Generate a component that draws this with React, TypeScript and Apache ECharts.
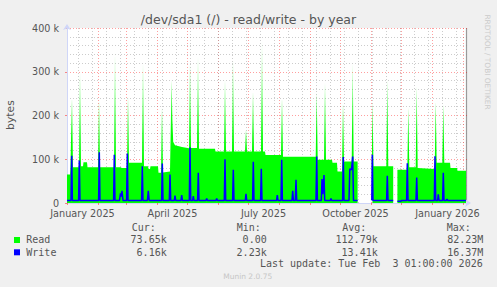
import { useEffect, useRef } from "react";
import * as echarts from "echarts";

// x = day offset from 1 January 2025, y = bytes in thousands
const readPoints: [number, number | null][] = [
  [0, 65], [3, 65], [3.4, 82],
  [4, 82], [5, 240], [6, 82],
  [12, 82], [13, 298], [14, 84],
  [16, 84], [16.5, 93], [20, 93], [20.5, 82],
  [31, 82], [32, 236], [33, 82],
  [47, 82], [48, 343], [49, 82],
  [54, 82], [54.5, 80],
  [60, 80], [61, 244], [62, 92],
  [75, 92], [76, 320], [77, 84],
  [81, 84], [81.5, 78], [83, 78], [83.5, 84],
  [91, 84], [91.5, 69],
  [94, 69], [95, 218], [96, 70],
  [103, 72], [103.6, 150], [104.6, 282], [105.4, 190], [106.2, 140], [108, 132],
  [115, 128], [122, 125], [123, 320], [124, 126],
  [130, 126], [131, 335], [132, 124],
  [148, 124], [148.5, 118],
  [157, 118], [158, 282], [159, 118],
  [165, 118], [166, 327], [167, 118],
  [178, 118], [179, 167], [180, 118],
  [185, 118], [186, 255], [187, 118],
  [194, 118], [195, 373], [196, 118],
  [198, 118], [198.5, 110],
  [214, 110], [215, 240], [216, 106],
  [248.7, 106], [249.7, 252], [250.7, 99],
  [257, 99], [258, 275], [259, 99],
  [265, 99], [265.5, 92], [270, 92], [270.5, 72],
  [275, 72], [276, 229], [277, 95],
  [284.7, 95], [285.7, 320], [286.7, 95],
  [290.6, 95], [291, null],
  [304.8, 84], [305.5, 230], [306.5, 84],
  [319.3, 84], [320.3, 282], [321.3, 84],
  [326.2, 84], [328, null],
  [330.4, 76], [340.3, 76], [341.3, 218], [342.3, 82],
  [348.7, 82], [349.7, 267], [350.7, 80],
  [367.7, 78], [368.7, 232], [369.7, 92],
  [375.3, 92], [376.3, 225], [377.3, 92],
  [383, 92], [383.5, 80], [390, 80], [390.5, 74], [399, 74],
];

const writePoints: [number, number | null][] = [
  [0, 6], [4, 6], [4.7, 108], [5.4, 6],
  [11.6, 6], [12.3, 97], [13, 6],
  [31.6, 6], [32.3, 116], [33, 6],
  [46.6, 6], [47.3, 110], [48, 6],
  [52.5, 6], [53.5, 22], [54.3, 15], [55, 28], [56, 6],
  [59.6, 6], [60.3, 113], [61, 6],
  [74.6, 6], [75.3, 84], [76, 6],
  [80.4, 6], [81.3, 28], [82.2, 6],
  [94.6, 6], [95.3, 90], [96, 6],
  [102.3, 6], [103, 65], [103.7, 6],
  [107.3, 6], [108, 17], [108.7, 6],
  [114, 6], [114.7, 18], [115.4, 6],
  [122.3, 6], [123, 127], [123.7, 6],
  [125.6, 6], [126.3, 16], [127, 6],
  [130.6, 6], [131.3, 69], [132, 6],
  [139, 6], [139.7, 10], [140.4, 6],
  [149, 6], [149.7, 10], [150.4, 6],
  [157.3, 6], [158, 100], [158.7, 6],
  [165.6, 6], [166.3, 76], [167, 6],
  [178.3, 6], [179, 21], [179.7, 6],
  [185.6, 6], [186.3, 94], [187, 6],
  [193.6, 6], [194.3, 78], [195, 6],
  [209.6, 6], [210.3, 18], [211, 6],
  [214, 6], [214.7, 99], [215.4, 6],
  [225, 6], [225.7, 28], [226.4, 6],
  [228.3, 6], [229, 53], [229.7, 6],
  [249, 6], [249.7, 106], [250.4, 6],
  [254.3, 6], [255, 55], [255.8, 20], [257, 64], [257.7, 6],
  [263.3, 6], [264, 10], [264.7, 6],
  [275.6, 6], [276.3, 105], [277, 6],
  [282, 6], [282.8, 78], [284.5, 76], [285.7, 106], [286.5, 6],
  [290.6, 6], [291, null],
  [304.8, 6], [305.3, 110], [306, 6],
  [319.6, 6], [320.3, 62], [321, 6],
  [326.2, 6], [328, null],
  [330.4, 4], [334, 4], [334.5, 6],
  [339.6, 6], [340.3, 91], [341, 6],
  [349, 6], [349.7, 58], [350.4, 6],
  [367.3, 6], [368, 107], [368.7, 6],
  [370.6, 6], [371.3, 20], [372, 6],
  [375.6, 6], [376.3, 69], [377, 6],
  [379.3, 6], [380, 9], [380.7, 6],
  [399, 6],
];

// axis furniture
const monthStarts = [0, 31, 59, 90, 120, 151, 181, 212, 243, 273, 304, 334, 365, 396];
const xLabelDays = [15.5, 105.5, 196.5, 288.5, 380.5];
const xLabelTexts = ["January 2025", "April 2025", "July 2025", "October 2025", "January 2026"];
const minorGridDays: number[] = [];
for (let d = 11.3; d < 400; d += 14) minorGridDays.push(Math.round(d * 10) / 10);

// legend
const legendNames = ["Read", "Write"];
const legendColors = ["#00FF00", "#0000FF"];
const statHeaders = ["Cur:", "Min:", "Avg:", "Max:"];
const curVals = ["73.65k", "6.16k"];
const minVals = ["0.00", "2.23k"];
const avgVals = ["112.79k", "13.41k"];
const maxVals = ["82.23M", "16.37M"];
const lastUpdate = "Last update: Tue Feb  3 01:00:00 2026";

const TXT = "#555555";
const MONO = '"DejaVu Sans Mono", monospace';
const SANS = '"DejaVu Sans", sans-serif';

function txt(x: number, y: number, text: string, opts: any = {}) {
  return {
    type: "text",
    x,
    y,
    rotation: opts.rotation || 0,
    silent: true,
    style: {
      text,
      fill: opts.fill || TXT,
      fontSize: opts.fontSize || 10,
      fontFamily: opts.fontFamily || MONO,
      align: opts.align || "left",
      textAlign: opts.align || "left",
      verticalAlign: "middle",
      textVerticalAlign: "middle",
    },
  };
}

export default function App() {
  const ref = useRef<HTMLDivElement>(null);
  useEffect(() => {
    if (!ref.current) return;
    const chart = echarts.init(ref.current, null, { renderer: "svg" });
    const gridRed = { color: "rgba(255,0,0,0.38)", type: [1, 2] as any, width: 1 };
    const gridGray = { color: "rgba(143,143,143,0.45)", type: [1, 2] as any, width: 1 };

    const headerX = [131.7, 236.7, 342.3, 446.7];
    const valueX = [166.7, 266.7, 377.7, 483.3];
    const rowY = [239.7, 252];
    const cols = [curVals, minVals, avgVals, maxVals];

    const graphics: any[] = [
      txt(248.5, 19, "/dev/sda1 (/) - read/write - by year", { fontFamily: SANS, fontSize: 12.5, align: "center" }),
      txt(10, 115, "bytes", { fontFamily: SANS, fontSize: 10.8, align: "center", rotation: Math.PI / 2 }),
      txt(487, 62, "RRDTOOL / TOBI OETIKER", { fontFamily: SANS, fontSize: 7.4, align: "center", rotation: -Math.PI / 2, fill: "#cbcbcb" }),
      txt(247.7, 276.3, "Munin 2.0.75", { fontFamily: SANS, fontSize: 7.5, align: "center", fill: "#c6c6c6" }),
      txt(482.7, 263.3, lastUpdate, { align: "right" }),
      {
        type: "line",
        silent: true,
        shape: { x1: 466.5, y1: 28, x2: 466.5, y2: 202 },
        style: { stroke: "#9a9a9a", lineWidth: 1.2 },
      },
    ];
    statHeaders.forEach((h, i) => graphics.push(txt(headerX[i], 227.3, h)));
    legendNames.forEach((n, r) => {
      graphics.push({
        type: "rect",
        silent: true,
        shape: { x: 14, y: rowY[r] - 2.7, width: 6, height: 6 },
        style: { fill: legendColors[r] },
      });
      graphics.push(txt(26.3, rowY[r], n));
      cols.forEach((c, i) => graphics.push(txt(valueX[i], rowY[r], c[r], { align: "right" })));
    });

    const readGradient = new echarts.graphic.LinearGradient(
      0, 28, 0, 203,
      [
        { offset: 0, color: "rgba(0,255,0,0.15)" },
        { offset: 0.25, color: "rgba(0,255,0,0.5)" },
        { offset: 0.5, color: "rgba(0,255,0,0.9)" },
        { offset: 0.62, color: "#00FF00" },
        { offset: 1, color: "#00FF00" },
      ],
      true
    );

    chart.setOption({
      animation: false,
      backgroundColor: "#F0F0F0",
      grid: {
        left: 67,
        top: 28,
        width: 400,
        height: 175,
        show: true,
        backgroundColor: "#FFFFFF",
        borderWidth: 0,
        containLabel: false,
        outerBoundsMode: "none",
      },
      xAxis: [
        {
          type: "value",
          min: 0,
          max: 400,
          position: "bottom",
          axisLine: {
            show: true,
            onZero: false,
            lineStyle: { color: "#CFD6F8", width: 1 },
            symbol: ["none", "arrow"],
            symbolSize: [6, 6],
            symbolOffset: [0, 4],
          },
          axisTick: {
            show: true,
            customValues: monthStarts,
            length: 2,
            lineStyle: { color: "rgba(255,0,0,0.45)" },
          },
          axisLabel: {
            show: true,
            customValues: xLabelDays,
            formatter: (v: number) => {
              const i = xLabelDays.findIndex((d) => Math.abs(d - v) < 0.01);
              return i >= 0 ? xLabelTexts[i] : "";
            },
            color: TXT,
            fontFamily: SANS,
            fontSize: 9.7,
            margin: 5,
          },
          splitLine: { show: true, lineStyle: gridRed },
        },
        {
          type: "value",
          min: 0,
          max: 400,
          position: "bottom",
          axisLine: { show: false },
          axisTick: { show: false, customValues: minorGridDays },
          axisLabel: { show: false },
          splitLine: { show: true, lineStyle: gridGray },
        },
      ],
      yAxis: {
        type: "value",
        min: 0,
        max: 400,
        interval: 100,
        axisLine: {
          show: true,
          onZero: false,
          lineStyle: { color: "#CFD6F8", width: 1 },
          symbol: ["none", "arrow"],
          symbolSize: [6, 6],
          symbolOffset: [0, 4],
        },
        axisTick: { show: true, length: 2, lineStyle: { color: "rgba(255,0,0,0.45)" } },
        axisLabel: {
          formatter: (v: number) => (v === 0 ? "0" : v + " k"),
          color: TXT,
          fontFamily: SANS,
          fontSize: 9.6,
          margin: 8,
        },
        splitLine: { show: true, lineStyle: gridRed },
        minorTick: { show: false, splitNumber: 5 },
        minorSplitLine: { show: true, lineStyle: gridGray },
      },
      series: [
        {
          name: "Read",
          type: "line",
          xAxisIndex: 0,
          data: readPoints,
          symbol: "none",
          showSymbol: false,
          connectNulls: false,
          lineStyle: { width: 0, opacity: 0 },
          areaStyle: { color: readGradient, opacity: 1 },
          z: 2,
        },
        {
          name: "Write",
          type: "line",
          xAxisIndex: 0,
          data: writePoints,
          symbol: "none",
          showSymbol: false,
          connectNulls: false,
          lineStyle: { color: "#0000FF", width: 1.5 },
          z: 3,
        },
      ],
      graphic: graphics,
    });
    return () => chart.dispose();
  }, []);
  return (
    <div
      ref={ref}
      style={{ position: "fixed", left: 0, top: 0, width: 497, height: 287 }}
    />
  );
}
